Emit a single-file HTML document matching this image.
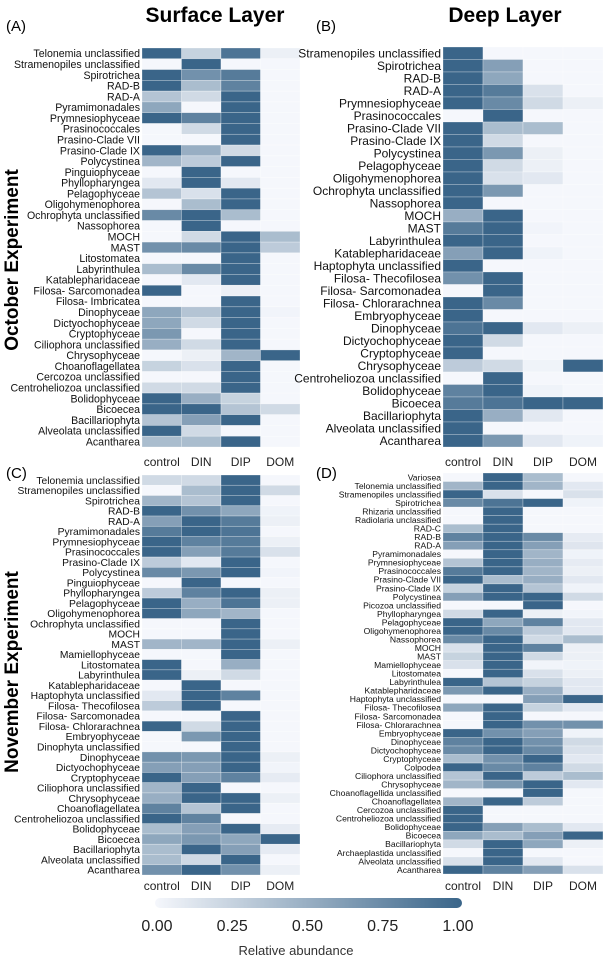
<!DOCTYPE html>
<html><head><meta charset="utf-8"><style>
html,body{margin:0;padding:0;background:#fff;}
svg{display:block;font-family:"Liberation Sans",Arial,sans-serif;}
</style></head><body>
<svg id="fig" width="605" height="961" viewBox="0 0 605 961">
<defs><linearGradient id="cb" x1="0" x2="1" y1="0" y2="0"><stop offset="0" stop-color="#f5f7fc"/><stop offset="1" stop-color="#3a6589"/></linearGradient></defs>
<text x="215" y="22" font-size="21" font-weight="bold" text-anchor="middle">Surface Layer</text>
<text x="505" y="22" font-size="21" font-weight="bold" text-anchor="middle">Deep Layer</text>
<text x="6" y="31" font-size="15">(A)</text>
<text x="316" y="31" font-size="15">(B)</text>
<text x="6" y="478" font-size="15">(C)</text>
<text x="316" y="478" font-size="15">(D)</text>
<text transform="translate(18,260) rotate(-90)" font-size="19" font-weight="bold" text-anchor="middle">October Experiment</text>
<text transform="translate(18,672) rotate(-90)" font-size="19" font-weight="bold" text-anchor="middle">November Experiment</text>
<rect x="155" y="898" width="307" height="10" rx="5" fill="url(#cb)"/>
<g id="cbticks"></g>
<text x="296" y="955" font-size="13" text-anchor="middle" fill="#333">Relative abundance</text>
</svg>
<script>
const treatments = ["control","DIN","DIP","DOM"];
const cbTicks = [0,0.25,0.5,0.75,1];
const cbLabels = ["0.00","0.25","0.50","0.75","1.00"];

const rowsA = ["Telonemia unclassified","Stramenopiles unclassified","Spirotrichea","RAD-B","RAD-A","Pyramimonadales","Prymnesiophyceae","Prasinococcales","Prasino-Clade VII","Prasino-Clade IX","Polycystinea","Pinguiophyceae","Phyllopharyngea","Pelagophyceae","Oligohymenophorea","Ochrophyta unclassified","Nassophorea","MOCH","MAST","Litostomatea","Labyrinthulea","Katablepharidaceae","Filosa- Sarcomonadea","Filosa- Imbricatea","Dinophyceae","Dictyochophyceae","Cryptophyceae","Ciliophora unclassified","Chrysophyceae","Choanoflagellatea","Cercozoa unclassified","Centroheliozoa unclassified","Bolidophyceae","Bicoecea","Bacillariophyta","Alveolata unclassified","Acantharea"];
const valsA = [[1,.25,.9,.05],[0,1,0,0],[1,.7,.85,0],[1,.4,.8,0],[.35,.2,1,0],[.55,0,1,0],[1,.8,1,0],[0,.2,1,0],[0,0,1,0],[1,.5,.2,0],[.45,.3,1,0],[0,1,0,0],[.1,1,.1,0],[.35,.15,1,0],[0,.4,1,0],[.75,1,.4,0],[0,1,0,0],[0,.2,1,.4],[.7,.75,1,.3],[0,0,1,0],[.4,.75,1,0],[0,.1,1,0],[1,0,.05,0],[0,0,1,0],[.55,.35,1,.02],[.55,.2,1,0],[.65,0,1,0],[.5,.2,1,0],[0,.05,.45,1],[.25,.15,1,0],[0,0,1,0],[.2,.2,1,0],[1,.5,.25,0],[1,1,.35,.2],[.35,.6,1,0],[1,.2,0,0],[.4,.4,1,0]];

const rowsB = ["Stramenopiles unclassified","Spirotrichea","RAD-B","RAD-A","Prymnesiophyceae","Prasinococcales","Prasino-Clade VII","Prasino-Clade IX","Polycystinea","Pelagophyceae","Oligohymenophorea","Ochrophyta unclassified","Nassophorea","MOCH","MAST","Labyrinthulea","Katablepharidaceae","Haptophyta unclassified","Filosa- Thecofilosea","Filosa- Sarcomonadea","Filosa- Chlorarachnea","Embryophyceae","Dinophyceae","Dictyochophyceae","Cryptophyceae","Chrysophyceae","Centroheliozoa unclassified","Bolidophyceae","Bicoecea","Bacillariophyta","Alveolata unclassified","Acantharea"];
const valsB = [[1,0,0,0],[1,.6,0,0],[1,.55,0,0],[1,.85,.15,0],[1,.75,.2,.05],[0,1,0,0],[1,.4,.4,0],[1,.2,0,0],[1,.65,.05,0],[1,.2,.05,0],[1,.15,.1,0],[1,.65,0,0],[1,0,0,0],[.5,1,0,0],[.85,1,.02,0],[1,1,0,0],[.6,1,.03,0],[1,0,0,0],[.7,1,0,0],[0,1,0,0],[1,.75,0,0],[1,0,0,0],[.9,1,.1,.05],[1,.2,0,0],[1,0,0,0],[.3,.2,.03,1],[0,1,0,0],[.8,1,.03,0],[.85,.9,1,1],[1,.5,.1,0],[1,0,0,0],[1,.65,.1,.03]];

const rowsC = ["Telonemia unclassified","Stramenopiles unclassified","Spirotrichea","RAD-B","RAD-A","Pyramimonadales","Prymnesiophyceae","Prasinococcales","Prasino-Clade IX","Polycystinea","Pinguiophyceae","Phyllopharyngea","Pelagophyceae","Oligohymenophorea","Ochrophyta unclassified","MOCH","MAST","Mamiellophyceae","Litostomatea","Labyrinthulea","Katablepharidaceae","Haptophyta unclassified","Filosa- Thecofilosea","Filosa- Sarcomonadea","Filosa- Chlorarachnea","Embryophyceae","Dinophyta unclassified","Dinophyceae","Dictyochophyceae","Cryptophyceae","Ciliophora unclassified","Chrysophyceae","Choanoflagellatea","Centroheliozoa unclassified","Bolidophyceae","Bicoecea","Bacillariophyta","Alveolata unclassified","Acantharea"];
const valsC = [[.2,.2,1,0],[0,.4,1,.2],[.45,.35,1,0],[1,.7,.55,.03],[.6,1,.85,.05],[.85,1,.9,0],[1,.8,.85,.05],[1,.6,.85,.15],[.3,.1,1,0],[.75,.65,1,.02],[0,1,0,0],[.3,.8,1,.05],[1,.5,.9,.05],[1,.55,.45,0],[0,0,1,0],[0,0,1,0],[.45,.45,1,.05],[0,0,1,0],[1,0,.5,0],[1,.05,.2,0],[0,1,0,0],[.1,1,.8,0],[.3,1,0,0],[0,0,1,0],[1,.2,1,0],[0,.65,1,0],[0,0,1,0],[.7,.65,1,.05],[.6,.6,1,.02],[1,.6,.8,.08],[.45,1,0,0],[.5,1,1,.05],[.8,.35,1,0],[1,.8,0,0],[.4,.6,1,.08],[.55,.65,.55,1],[.4,1,.6,.08],[.4,.2,1,0],[.7,1,.7,.05]];

const rowsD = ["Variosea","Telonemia unclassified","Stramenopiles unclassified","Spirotrichea","Rhizaria unclassified","Radiolaria unclassified","RAD-C","RAD-B","RAD-A","Pyramimonadales","Prymnesiophyceae","Prasinococcales","Prasino-Clade VII","Prasino-Clade IX","Polycystinea","Picozoa unclassified","Phyllopharyngea","Pelagophyceae","Oligohymenophorea","Nassophorea","MOCH","MAST","Mamiellophyceae","Litostomatea","Labyrinthulea","Katablepharidaceae","Haptophyta unclassified","Filosa- Thecofilosea","Filosa- Sarcomonadea","Filosa- Chlorarachnea","Embryophyceae","Dinophyceae","Dictyochophyceae","Cryptophyceae","Colpodea","Ciliophora unclassified","Chrysophyceae","Choanoflagellida unclassified","Choanoflagellatea","Cercozoa unclassified","Centroheliozoa unclassified","Bolidophyceae","Bicoecea","Bacillariophyta","Archaeplastida unclassified","Alveolata unclassified","Acantharea"];
const valsD = [[0,1,.4,0],[.45,1,.45,.1],[1,.15,0,.15],[.75,.9,1,.03],[0,1,0,0],[0,1,0,0],[.4,1,0,0],[.8,1,.75,.08],[.6,1,.6,.12],[0,1,.45,.03],[.35,1,.5,.08],[.85,1,.45,.05],[1,.4,.5,.1],[.25,1,.35,.03],[.6,1,1,.2],[0,0,1,0],[.2,1,.05,.02],[1,.55,.8,.1],[1,.75,.3,.1],[.75,1,.2,.4],[.15,1,.8,.05],[.25,1,.2,.05],[.15,1,.02,.03],[0,1,.15,.05],[1,.35,.25,.1],[.65,1,.5,.1],[0,0,.6,1],[.55,1,.25,.1],[0,1,0,0],[0,1,.7,.7],[1,.7,.6,.03],[.8,1,.7,.2],[.75,1,.75,.15],[.4,.7,1,.1],[1,.75,.8,.2],[.35,1,.3,.4],[.45,.65,1,.1],[0,0,1,0],[.45,1,.3,0],[1,0,0,0],[1,0,0,0],[1,.6,.4,.1],[.55,.4,.6,1],[.2,1,.55,.05],[0,1,0,0],[.15,1,.1,0],[1,.8,.6,.15]];

const NS="http://www.w3.org/2000/svg";
const svg=document.getElementById('fig');
function color(v){const a=[245,247,252],b=[58,101,137];return 'rgb('+a.map((c,i)=>Math.round(c+(b[i]-c)*v)).join(',')+')';}
function mk(tag,attrs){const e=document.createElementNS(NS,tag);for(const k in attrs)e.setAttribute(k,attrs[k]);return e;}
function panel(id,rows,vals,x0,x1,y0,y1,fs,xlabY){
  const g=mk('g',{});
  
  
  svg.appendChild(g);
  const cw=(x1-x0)/treatments.length, rh=(y1-y0)/rows.length;
  const xs=j=>x0+j*cw, ys=i=>y0+i*rh;
  rows.forEach((r,i)=>{
    const t=mk('text',{x:x0-2,y:ys(i)+rh/2+fs*0.36,'font-size':fs,'text-anchor':'end',fill:'#111'});
    
    
    t.textContent=r;g.appendChild(t);
    vals[i].forEach((v,j)=>{
      const c=mk('rect',{x:xs(j),y:ys(i),width:cw,height:rh,fill:color(v),stroke:'rgba(255,255,255,0.45)','stroke-width':0.6});
      
      
      g.appendChild(c);
    });
  });
  treatments.forEach((tr,j)=>{
    const t=mk('text',{x:xs(j)+cw/2,y:xlabY,'font-size':12,'text-anchor':'middle',fill:'#222'});
    
    
    t.textContent=tr;g.appendChild(t);
  });
}
panel('a',rowsA,valsA,142,300,48,447,10.6,466);
panel('b',rowsB,valsB,443,603,47,447,12,466);
panel('c',rowsC,valsC,142,300,475,875,10.3,890);
panel('d',rowsD,valsD,443,603,473,874,8.6,890);
const cbg=document.getElementById('cbticks');
const cbx=v=>157+v*(458-157);
cbTicks.forEach((v,i)=>{
  const t=mk('text',{x:cbx(v),y:931,'font-size':16,'text-anchor':'middle',fill:'#222'});
  
  
  t.textContent=cbLabels[i];cbg.appendChild(t);
});
</script>
</body></html>
